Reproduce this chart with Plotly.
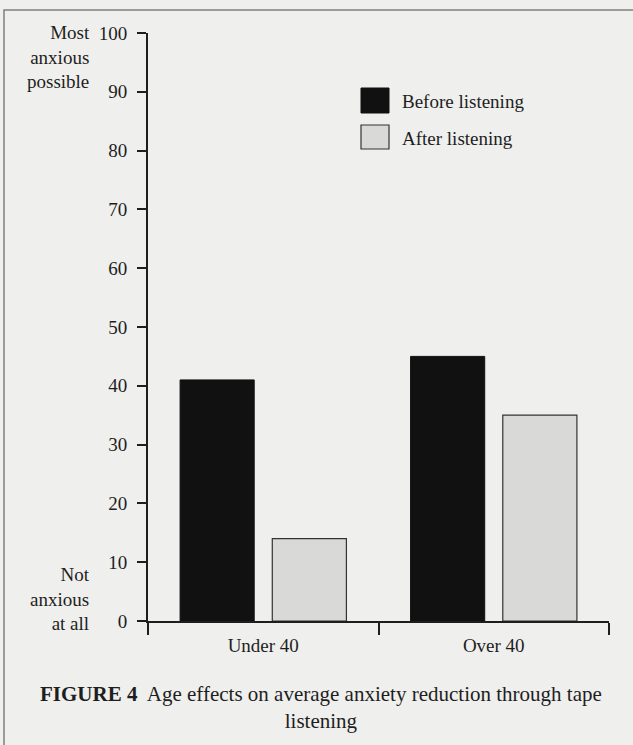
import plotly.graph_objects as go

categories = ["Under 40", "Over 40"]
before_listening = [41, 45]
after_listening = [14, 35]
y_ticks = [0, 10, 20, 30, 40, 50, 60, 70, 80, 90, 100]

FONT = "Liberation Serif"
BG = "#efefed"
INK = "#1e1e1e"

fig = go.Figure()
fig.add_trace(go.Bar(name="Before listening", x=categories, y=before_listening,
                     marker=dict(color="#111111", line=dict(color="#111111", width=1))))
fig.add_trace(go.Bar(name="After listening", x=categories, y=after_listening,
                     marker=dict(color="#d9d9d7", line=dict(color="#333333", width=1.2))))

fig.update_layout(
    width=633, height=745,
    margin=dict(l=148, r=24, t=33, b=124),
    paper_bgcolor=BG, plot_bgcolor=BG,
    barmode="group", bargap=0.2, bargroupgap=0.196,
    showlegend=False, hovermode=False,
    font=dict(family=FONT, size=19, color=INK),
    xaxis=dict(type="category", range=[-0.5, 1.5], showline=True, linecolor=INK, linewidth=2,
               ticks="outside", tickson="boundaries", ticklen=12, tickwidth=2, tickcolor=INK,
               ticklabelstandoff=6,
               showgrid=False, zeroline=False, fixedrange=True),
    yaxis=dict(range=[0, 100], tickvals=y_ticks, showline=True, linecolor=INK, linewidth=2,
               ticks="outside", ticklen=9, tickwidth=2, tickcolor=INK,
               ticklabelstandoff=6,
               showgrid=False, zeroline=False, fixedrange=True),
)

# frame of the figure box
fig.add_shape(type="rect", xref="paper", yref="paper",
              x0=(4 - 148) / 461, x1=(640 - 148) / 461,
              y0=(621 - 760) / 588, y1=(621 - 10) / 588,
              line=dict(color="#808080", width=1.5), fillcolor="rgba(0,0,0,0)", layer="below")

# legend swatches
fig.add_shape(type="rect", xref="paper", yref="paper",
              x0=(361 - 148) / 461, x1=(389 - 148) / 461,
              y0=(621 - 113) / 588, y1=(621 - 88) / 588,
              fillcolor="#111111", line=dict(color="#111111", width=1))
fig.add_shape(type="rect", xref="paper", yref="paper",
              x0=(361 - 148) / 461, x1=(389 - 148) / 461,
              y0=(621 - 149) / 588, y1=(621 - 125) / 588,
              fillcolor="#d9d9d7", line=dict(color="#333333", width=1.2))
fig.add_annotation(text="Before listening", xref="paper", yref="paper",
                   x=(400 - 148) / 461, y=(621 - 101) / 588, xanchor="left", yanchor="middle",
                   showarrow=False, font=dict(size=19))
fig.add_annotation(text="After listening", xref="paper", yref="paper",
                   x=(400 - 148) / 461, y=(621 - 138) / 588, xanchor="left", yanchor="middle",
                   showarrow=False, font=dict(size=19))

# scale end labels
fig.add_annotation(text="Most<br>anxious<br>possible", xref="paper", yref="paper",
                   x=(92 - 148) / 461, y=(621 - 20) / 588, xanchor="right", yanchor="top",
                   align="right", showarrow=False, font=dict(size=19))
fig.add_annotation(text="Not<br>anxious<br>at all", xref="paper", yref="paper",
                   x=(92 - 148) / 461, y=(621 - 636) / 588, xanchor="right", yanchor="bottom",
                   align="right", showarrow=False, font=dict(size=19))

# caption
fig.add_annotation(text="<b>FIGURE 4</b>  Age effects on average anxiety reduction through tape<br>listening",
                   xref="paper", yref="paper", x=(321 - 148) / 461, y=(621 - 680) / 588,
                   xanchor="center", yanchor="top", align="center", showarrow=False,
                   font=dict(size=21))

fig.write_html("out.html", config={"displayModeBar": False},
               post_script="document.body.style.margin='0';document.body.style.background='#efefed';")
